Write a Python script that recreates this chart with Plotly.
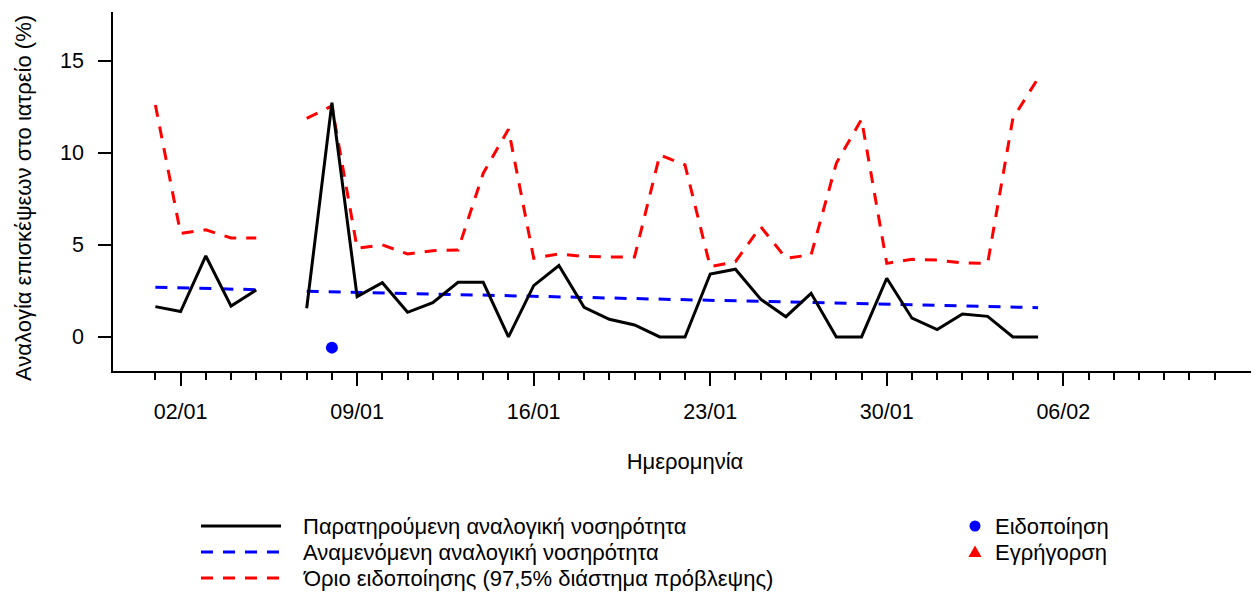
import pandas as pd
import plotly.graph_objects as go

# ---------------- data ----------------
start_date = "2023-01-01"
n_days = 36
dates = pd.date_range(start_date, periods=n_days, freq="D")

observed = [1.65, 1.38, 4.40, 1.68, 2.55, None, 1.56, 12.73, 2.19, 2.95, 1.34, 1.86,
            2.97, 2.97, 0.00, 2.79, 3.88, 1.61, 0.96, 0.65, 0.00, 0.00, 3.42, 3.68,
            2.05, 1.10, 2.37, 0.00, 0.00, 3.19, 1.02, 0.40, 1.25, 1.12, 0.00, 0.00]

expected = [2.70, 2.67, 2.64, 2.61, 2.57, None, 2.49, 2.46, 2.43, 2.40, 2.37, 2.33,
            2.30, 2.27, 2.24, 2.21, 2.18, 2.15, 2.12, 2.08, 2.05, 2.02, 1.99, 1.96,
            1.93, 1.90, 1.87, 1.84, 1.80, 1.77, 1.74, 1.71, 1.68, 1.65, 1.62, 1.59]

threshold = [12.61, 5.63, 5.82, 5.38, 5.38, None, 11.88, 12.55, 4.82, 5.00, 4.51, 4.69,
             4.73, 8.90, 11.29, 4.28, 4.51, 4.37, 4.35, 4.35, 9.89, 9.35, 3.82, 4.09,
             6.00, 4.28, 4.46, 9.44, 11.83, 4.00, 4.22, 4.18, 4.02, 4.00, 11.88, 14.06]

notification_dates = ["2023-01-08"]
notification_vals = [-0.58]
alert_dates = []
alert_vals = []

major_tick_dates = pd.date_range("2023-01-02", "2023-02-06", freq="7D")
major_tick_text = [d.strftime("%d/%m") for d in major_tick_dates]
minor_tick_dates = pd.date_range("2023-01-01", "2023-02-12", freq="D")
y_ticks = [0, 5, 10, 15]

legend_left_labels = ["Παρατηρούμενη αναλογική νοσηρότητα",
                      "Αναμενόμενη αναλογική νοσηρότητα",
                      "Όριο ειδοποίησης (97,5% διάστημα πρόβλεψης)"]
legend_left_colors = ["black", "blue", "red"]
legend_left_dash = ["solid", "dash", "dash"]
legend_right_labels = ["Ειδοποίηση", "Εγρήγορση"]
legend_right_colors = ["blue", "red"]
legend_right_symbols = ["circle", "triangle"]

x_title = "Ημερομηνία"
y_title = "Αναλογία επισκέψεων στο ιατρείο (%)"

# ---------------- figure ----------------
FONT = "Liberation Sans, Arial, sans-serif"
FS = 22
TFS = 21.5
YFS = 22
DASH = "12px,10px"

# page body has an 8px margin: plot area target is x 113..1257, y 12..371
L, R, T, B = 105, 2, 4, 225
W, H = 1251, 588
PW, PH = W - L - R, H - T - B  # 1144 x 359


def px_x(px):
    return (px - 113) / PW


def px_y(py):
    return (371 - py) / PH


fig = go.Figure()
fig.add_trace(go.Scatter(x=dates, y=threshold, mode="lines",
                         line=dict(color="red", width=3, dash=DASH), showlegend=False))
fig.add_trace(go.Scatter(x=dates, y=expected, mode="lines",
                         line=dict(color="blue", width=3, dash=DASH), showlegend=False))
fig.add_trace(go.Scatter(x=dates, y=observed, mode="lines",
                         line=dict(color="black", width=3), showlegend=False))
fig.add_trace(go.Scatter(x=notification_dates, y=notification_vals, mode="markers",
                         marker=dict(color="blue", size=12, symbol="circle"), showlegend=False))
fig.add_trace(go.Scatter(x=alert_dates, y=alert_vals, mode="markers",
                         marker=dict(color="red", size=12, symbol="triangle-up"), showlegend=False))

x0 = pd.Timestamp("2023-01-01") - pd.Timedelta(days=1.68)
x1 = pd.Timestamp("2023-02-12") + pd.Timedelta(days=1.68)

fig.update_xaxes(
    range=[x0, x1], showgrid=False, zeroline=False,
    showline=True, linecolor="black", linewidth=1.5,
    tickmode="array", tickvals=list(major_tick_dates), ticktext=major_tick_text,
    ticks="outside", ticklen=13, tickwidth=1.5, tickcolor="black",
    tickfont=dict(family=FONT, size=TFS, color="black"),
    minor=dict(tickmode="array", tickvals=list(minor_tick_dates), ticks="outside",
               ticklen=7, tickwidth=1.5, tickcolor="black", showgrid=False),
    ticklabelstandoff=7,
    title=dict(text=x_title, font=dict(family=FONT, size=FS, color="black"), standoff=31),
)
fig.update_yaxes(
    range=[-1.85, 17.66], showgrid=False, zeroline=False,
    showline=True, linecolor="black", linewidth=1.5,
    tickmode="array", tickvals=y_ticks, ticks="outside", ticklen=13,
    tickwidth=1.5, tickcolor="black",
    tickfont=dict(family=FONT, size=TFS, color="black"),
    ticklabelstandoff=10,
)

annotations = [dict(text=y_title, xref="paper", yref="paper", x=px_x(24), y=px_y(198),
                    textangle=-90, showarrow=False, xanchor="center", yanchor="middle",
                    font=dict(family=FONT, size=YFS, color="black"))]
shapes = []

# legend (manual, below plot)
row_y = [px_y(526), px_y(552), px_y(578)]
for i, lab in enumerate(legend_left_labels):
    shapes.append(dict(type="line", xref="paper", yref="paper",
                       x0=px_x(201), x1=px_x(281), y0=row_y[i], y1=row_y[i],
                       line=dict(color=legend_left_colors[i], width=3,
                                 dash="solid" if legend_left_dash[i] == "solid" else DASH)))
    annotations.append(dict(text=lab, xref="paper", yref="paper", x=px_x(301),
                            y=row_y[i], xanchor="left", yanchor="middle", showarrow=False,
                            font=dict(family=FONT, size=FS, color="black")))

for i, lab in enumerate(legend_right_labels):
    annotations.append(dict(text=lab, xref="paper", yref="paper", x=px_x(993),
                            y=row_y[i], xanchor="left", yanchor="middle", showarrow=False,
                            font=dict(family=FONT, size=FS, color="black")))
    common = dict(xref="paper", yref="paper", xsizemode="pixel", ysizemode="pixel",
                  xanchor=px_x(975), yanchor=row_y[i],
                  fillcolor=legend_right_colors[i], line=dict(width=0))
    if legend_right_symbols[i] == "circle":
        shapes.append(dict(type="circle", x0=-5.5, x1=5.5, y0=-5.5, y1=5.5, **common))
    else:
        shapes.append(dict(type="path", path="M-6.5,-5 L6.5,-5 L0,6.5 Z", **common))

fig.update_layout(
    width=W, height=H, autosize=False,
    margin=dict(l=L, r=R, t=T, b=B),
    paper_bgcolor="white", plot_bgcolor="white",
    showlegend=False,
    annotations=annotations, shapes=shapes,
    font=dict(family=FONT, size=FS, color="black"),
)

fig.write_html("out.html")
